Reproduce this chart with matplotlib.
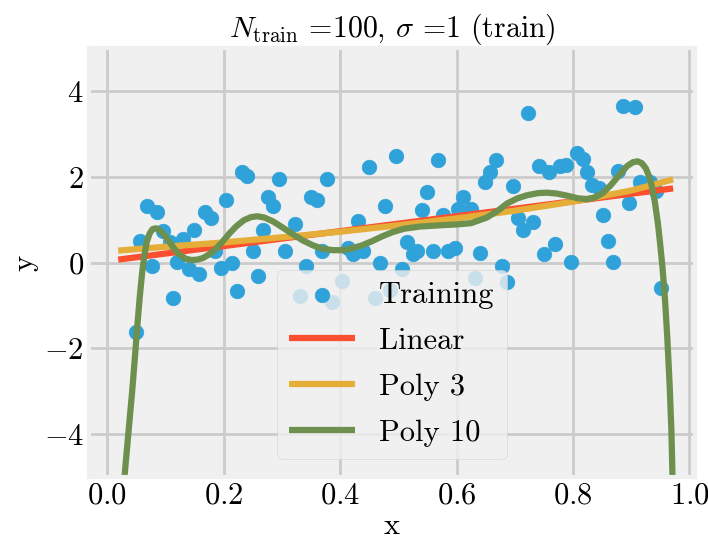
import matplotlib
matplotlib.use("Agg")
import matplotlib.pyplot as plt
import numpy as np

plt.style.use('fivethirtyeight')
plt.rcParams['font.family'] = 'serif'
plt.rcParams['font.serif'] = ['cmr10']
plt.rcParams['mathtext.fontset'] = 'cm'
plt.rcParams['axes.formatter.use_mathtext'] = True

# training points
x_train = [0.050, 0.057, 0.069, 0.086, 0.096, 0.077, 0.108, 0.130, 0.149, 0.120,
           0.141, 0.158, 0.113, 0.185, 0.196, 0.215, 0.223, 0.259, 0.251, 0.268,
           0.306, 0.323, 0.168, 0.179, 0.204, 0.232, 0.240, 0.295, 0.276, 0.285,
           0.378, 0.350, 0.361, 0.450, 0.496, 0.568, 0.477, 0.549, 0.541, 0.577,
           0.611, 0.603, 0.625, 0.668, 0.658, 0.649, 0.431, 0.723, 0.886, 0.906,
           0.697, 0.742, 0.759, 0.778, 0.788, 0.807, 0.817, 0.824, 0.833, 0.845,
           0.877, 0.915, 0.932, 0.942, 0.896, 0.852, 0.860, 0.869, 0.797, 0.750,
           0.769, 0.714, 0.731, 0.706, 0.640, 0.678, 0.687, 0.632, 0.951, 0.515,
           0.525, 0.532, 0.560, 0.585, 0.597, 0.369, 0.414, 0.422, 0.439, 0.342,
           0.331, 0.386, 0.403, 0.469, 0.460, 0.486, 0.506]
y_train = [-1.61, 0.51, 1.31, 1.17, 0.73, -0.09, 0.49, 0.56, 0.77, 0.02,
           -0.16, -0.26, -0.82, 0.26, -0.12, 0.00, -0.65, -0.30, 0.26, 0.75,
           0.28, 0.89, 1.17, 1.05, 1.45, 2.11, 2.01, 1.96, 1.52, 1.31,
           1.94, 1.52, 1.47, 2.22, 2.48, 2.39, 1.33, 1.64, 1.22, 1.12,
           1.52, 1.26, 1.26, 2.39, 2.11, 1.89, 0.96, 3.49, 3.65, 3.63,
           1.78, 2.25, 2.11, 2.25, 2.27, 2.55, 2.41, 2.11, 1.80, 1.75,
           2.13, 1.89, 1.87, 1.68, 1.40, 1.12, 0.51, 0.02, 0.02, 0.21,
           0.44, 0.75, 0.94, 1.05, 0.23, -0.07, -0.44, -0.35, -0.58, 0.49,
           0.21, 0.26, 0.26, 0.28, 0.33, 0.28, 0.35, 0.21, 0.26, -0.07,
           -0.77, -0.91, -0.42, 0.00, -0.82, -0.63, -0.16]

# fitted curves
x_lin = [0.019, 0.972]
y_lin = [0.07, 1.73]

x_poly3 = [0.019, 0.1, 0.2, 0.3, 0.4, 0.5, 0.6, 0.7, 0.8, 0.9, 0.972]
y_poly3 = [0.28, 0.37, 0.47, 0.59, 0.72, 0.87, 1.03, 1.21, 1.42, 1.68, 1.94]

x_poly10 = [0.027, 0.031, 0.037, 0.043, 0.048, 0.052, 0.056, 0.060, 0.064, 0.068,
            0.073, 0.078, 0.084, 0.090, 0.097, 0.105, 0.115, 0.125, 0.135, 0.145,
            0.155, 0.165, 0.175, 0.185, 0.197, 0.210, 0.222, 0.235, 0.247, 0.258,
            0.270, 0.285, 0.300, 0.319, 0.337, 0.354, 0.371, 0.388, 0.405, 0.420,
            0.437, 0.455, 0.472, 0.490, 0.510, 0.537, 0.572, 0.600, 0.625, 0.652,
            0.670, 0.687, 0.705, 0.721, 0.740, 0.755, 0.772, 0.790, 0.808, 0.824,
            0.838, 0.852, 0.866, 0.880, 0.893, 0.903, 0.911, 0.918, 0.925, 0.931,
            0.936, 0.941, 0.946, 0.950, 0.954, 0.958, 0.962, 0.966, 0.969, 0.972]
y_poly10 = [-5.5, -4.80, -3.90, -3.00, -2.15, -1.45, -0.80, -0.25, 0.18, 0.48,
            0.68, 0.78, 0.80, 0.76, 0.67, 0.52, 0.33, 0.18, 0.09, 0.06,
            0.07, 0.11, 0.19, 0.30, 0.47, 0.68, 0.85, 0.99, 1.06, 1.08,
            1.05, 0.96, 0.83, 0.66, 0.51, 0.40, 0.32, 0.29, 0.29, 0.33,
            0.40, 0.50, 0.61, 0.71, 0.79, 0.84, 0.87, 0.89, 0.92, 1.05,
            1.20, 1.38, 1.50, 1.57, 1.62, 1.63, 1.61, 1.56, 1.50, 1.48,
            1.52, 1.63, 1.82, 2.05, 2.25, 2.34, 2.36, 2.32, 2.20, 2.00,
            1.75, 1.38, 0.90, 0.40, -0.15, -0.85, -1.75, -2.85, -3.90, -5.6]

fig = plt.figure(figsize=(7.08, 5.46), dpi=100, facecolor='white')
ax = fig.add_axes([0.125, 0.126, 0.857, 0.786])

ax.scatter(x_train, y_train, s=110, color='#30a2da', label='Training')
ax.plot(x_lin, y_lin, color='#fc4f30', lw=4.5, label='Linear')
ax.plot(x_poly3, y_poly3, color='#e5ae38', lw=4.5, label='Poly 3')
ax.plot(x_poly10, y_poly10, color='#6d904f', lw=4.5, label='Poly 10')

ax.set_xlim(-0.032, 1.01)
ax.set_ylim(-5, 5)
ax.set_xticks([0.0, 0.2, 0.4, 0.6, 0.8, 1.0])
ax.set_yticks([-4, -2, 0, 2, 4])
ax.tick_params(labelsize=22)
ax.grid(True, color='#cbcbcb', lw=2)

ax.set_xlabel('x', fontsize=22, labelpad=2)
ax.set_ylabel('y', fontsize=22, labelpad=4)
ax.set_title(r'$N_{\mathrm{train}}$ =100, $\sigma$ =1 (train)', fontsize=21.5, pad=8)

ax.legend(loc='lower center', fontsize=22, facecolor='#f0f0f0', edgecolor='#d0d0d0',
          framealpha=0.8, labelspacing=0.6, handlelength=2.15, borderaxespad=0.6)

fig.savefig('out.png', dpi=100, facecolor='white')
